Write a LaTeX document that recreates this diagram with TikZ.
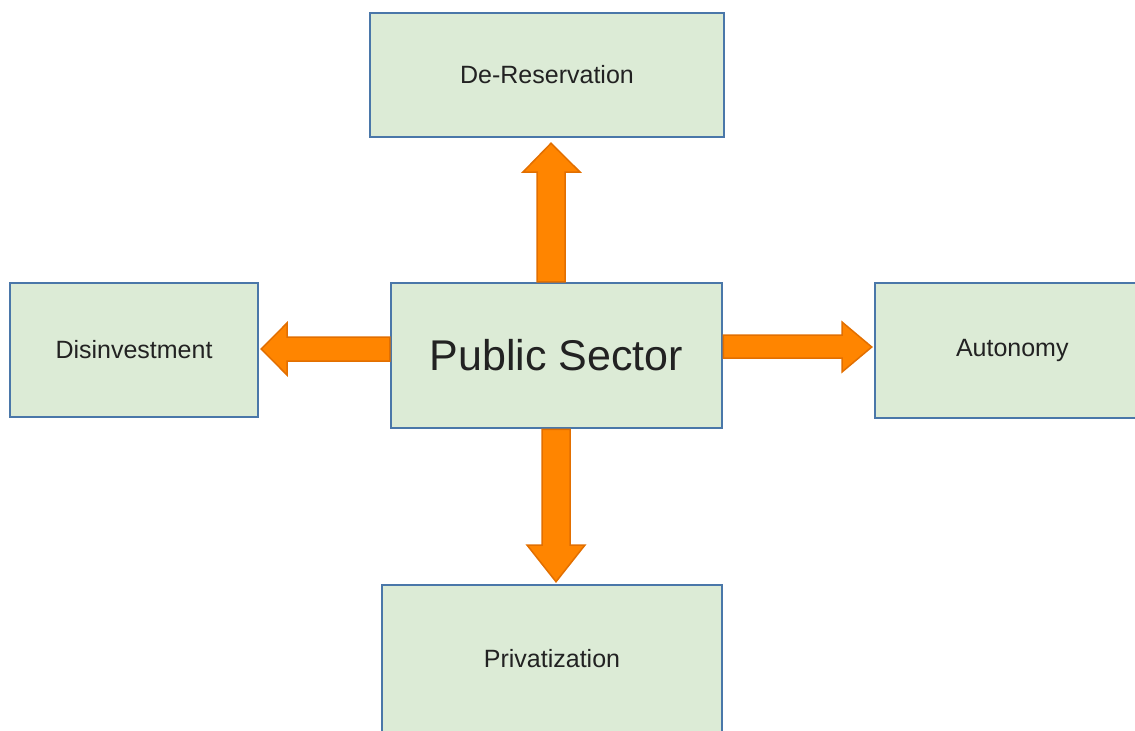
\documentclass[tikz,border=0pt]{standalone}
\usepackage{fontspec}
\setmainfont{Liberation Sans}
\usepackage{tikz}
\usetikzlibrary{positioning, calc}
\definecolor{boxfill}{HTML}{DCEBD6}
\definecolor{boxline}{HTML}{4A77A9}
\definecolor{arrowfill}{HTML}{FF8500}
\definecolor{arrowline}{HTML}{E26F00}
\definecolor{txt}{HTML}{222222}
\tikzset{style={font=\fontsize{12.5}{15}\selectfont}}

\begin{document}
\begin{tikzpicture}[x=0.5pt,y=-0.5pt,box/.style={rectangle,fill=boxfill,draw=boxline,line
                width=1.25pt,text=txt},fat/.style={fill=arrowfill,draw=arrowline,line width=0.75pt,line join=miter}]
                \useasboundingbox (0,0) rectangle (1135,730);
                \node[box,minimum width=177pt,minimum height=62pt] (dere) at (547,75) {De-Reservation};
                \node[box,minimum width=165.5pt,minimum height=72.5pt,font=\fontsize{21.5}{26}\selectfont] (pub) at (556.5,355.5) {Public Sector};
                \node[box,minimum width=124pt,minimum height=67pt] (dis) at (134,350) {Disinvestment};
                \node[box,minimum width=137pt,minimum height=67.5pt,text width=130pt,align=left] (auto) at (1012,350.5) {\hspace*{37pt}Autonomy};
                \node[box,minimum width=170pt,minimum height=74pt] (priv) at (552,659) {Privatization};
                \draw[fat] (537,0 |- pub.north) -- (537,172) -- (523,172) -- ($(551,0 |- dere.south)+(0,5)$)
                -- (580,172) -- (565,172) -- (565,0 |- pub.north) -- cycle;
                \draw[fat] (pub.west |- 0,337) -- (287,337) -- (287,323) -- ($(dis.east |- 0,349)+(2,0)$)
                -- (287,375) -- (287,361) -- (pub.west |- 0,361) -- cycle;
                \draw[fat] (pub.east |- 0,335) -- (842,335) -- (842,322) -- ($(auto.west |- 0,347)+(-2,0)$)
                -- (842,372) -- (842,358) -- (pub.east |- 0,358) -- cycle;
                \draw[fat] (542,0 |- pub.south) -- (542,545) -- (527,545) -- ($(556,0 |- priv.north)+(0,-2)$)
                -- (585,545) -- (570,545) -- (570,0 |- pub.south) -- cycle;
            \end{tikzpicture}
\end{document}
